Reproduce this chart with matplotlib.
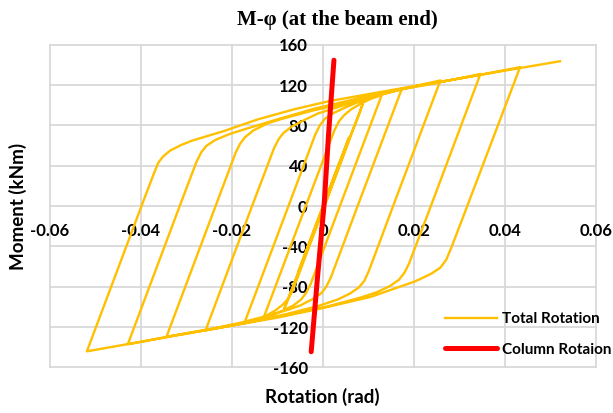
import matplotlib.pyplot as plt

# Total rotation (rad) vs moment (kNm), one branch per line
rot_total = [
    0, -0.0035, 0.0036, -0.0055, 0.0057, -0.0066, -0.0085,
    0.0003, 0.0064, 0.0074, 0.0081, 0.0087,
    0.0003, -0.0066, -0.0076, -0.0088, -0.0105, -0.013,
    -0.0038, 0.0025, 0.0035, 0.0046, 0.0062, 0.0085, 0.0106, 0.0129,
    0.0037, -0.0027, -0.0037, -0.0048, -0.0065, -0.009, -0.012, -0.0145, -0.0172,
    -0.0076, -0.0017, -0.0007, 0.0004, 0.0022, 0.0048, 0.0071, 0.0116, 0.0173,
    0.0076, 0.0017, 0.0007, -0.0004, -0.0022, -0.005, -0.0075, -0.012, -0.018, -0.0258,
    -0.0156, -0.0108, -0.0098, -0.0087, -0.0068, -0.0038, -0.001, 0.005, 0.011, 0.018, 0.0258,
    0.0154, 0.0101, 0.0091, 0.0079, 0.006, 0.0033, -0.001, -0.008, -0.016, -0.025, -0.0344,
    -0.0236, -0.0192, -0.0182, -0.0171, -0.0153, -0.0122, -0.009, -0.002, 0.006, 0.015,
    0.025, 0.0346,
    0.0237, 0.0189, 0.0179, 0.0167, 0.0148, 0.0118, 0.008, 0.001, -0.008, -0.018,
    -0.03, -0.0429,
    -0.0315, -0.0278, -0.0268, -0.0257, -0.0237, -0.0205, -0.017, -0.01, -0.002, 0.008,
    0.02, 0.032, 0.0433,
    0.0317, 0.0283, 0.0271, 0.0258, 0.0238, 0.0215, 0.02, 0.0105, 0, -0.01, -0.02,
    -0.03, -0.04, -0.0519,
    -0.0399, -0.0372, -0.0362, -0.0352, -0.0336, -0.0312, -0.0289, -0.0217, -0.0143,
    -0.0063, 0.0013, 0.01, 0.02, 0.03, 0.04, 0.0521,
]
mom_total = [
    0, -42, 43, -66, 68, -80, -101.5,
    0, 74, 85, 93, 101,
    0, -83, -91.5, -97.5, -103.5, -110,
    0, 75, 84, 90, 96, 102, 106.5, 110,
    0, -77, -86, -92.5, -98.5, -104, -109.5, -112.5, -115,
    0, 71, 80, 86.5, 92, 97.5, 102, 109, 116,
    0, -71, -80, -86.5, -92, -98.5, -102.5, -108.5, -115.5, -123,
    0, 57, 66, 72.5, 79, 86, 92, 100.5, 108.5, 116.5, 124.6,
    0, -64, -74, -80.5, -86.5, -92.5, -99, -107, -115, -122.5, -129.5,
    0, 53, 62, 68.5, 75, 82, 86.5, 95, 103, 114,
    122, 131,
    0, -57, -66, -73, -79, -85.5, -91, -99.5, -108, -116.5,
    -126, -137,
    0, 44, 53, 59.5, 65.5, 71.5, 76.5, 86, 96.5, 107,
    118.5, 128, 137.7,
    0, -40, -53, -61, -67, -72, -75, -90, -101, -110.5, -118.5,
    -126.5, -134.5, -144,
    0, 32, 43, 49, 55, 60.5, 64.7, 74.5, 86,
    96, 104, 111, 119, 126.5, 134.3, 143.6,
]

# Column rotation (rad) vs moment (kNm)
rot_col = [-0.0026, -0.0012, 0.0003, 0.0012, 0.0024]
mom_col = [-144.4, -70, 5, 70, 144.6]

x_ticks = [-0.06, -0.04, -0.02, 0, 0.02, 0.04, 0.06]
x_labels = ['-0.06', '-0.04', '-0.02', '0', '0.02', '0.04', '0.06']
y_ticks = [-160, -120, -80, -40, 0, 40, 80, 120, 160]
y_labels = ['-160', '-120', '-80', '-40', '0', '40', '80', '120', '160']

plt.rcParams['font.family'] = 'Lato'

fig = plt.figure(figsize=(6.13, 4.13), dpi=100)
ax = fig.add_axes([0.0816, 0.1102, 0.8907, 0.7816])

ax.plot(rot_total, mom_total, color='#FFC000', lw=1.7, label='Total Rotation')
ax.plot(rot_col, mom_col, color='#FF0000', lw=3.6, label='Column Rotaion',
        solid_capstyle='round')

ax.set_xlim(-0.06, 0.06)
ax.set_ylim(-160, 160)
ax.set_xticks(x_ticks)
ax.set_xticklabels(x_labels)
ax.set_yticks(y_ticks)
ax.set_yticklabels(y_labels)

# axes cross at the origin, labels sit next to them
for s in ax.spines.values():
    s.set_visible(False)
ax.spines['left'].set_position(('data', 0))
ax.spines['bottom'].set_position(('data', 0))
ax.tick_params(axis='both', length=0, labelsize=12)
ax.tick_params(axis='y', pad=11)
ax.tick_params(axis='x', pad=12)
for lab in ax.get_xticklabels() + ax.get_yticklabels():
    lab.set_fontweight('bold')

ax.grid(color='#D9D9D9', lw=1.3)
for gl in ax.get_xgridlines() + ax.get_ygridlines():
    gl.set_clip_on(False)

fig.text(337 / 613, 1 - 20 / 413, 'M-φ (at the beam end)', family='Liberation Serif',
         weight='bold', size=15, ha='center', va='center')
fig.text(18 / 613, 0.501, 'Moment (kNm)', rotation=90, weight='bold', size=13.5,
         ha='center', va='center')
fig.text(322 / 613, 1 - 397 / 413, 'Rotation (rad)', weight='bold', size=13.5,
         ha='center', va='center')

ax.legend(loc='upper left', bbox_to_anchor=(445 / 613, 1 - 312 / 413),
          bbox_transform=fig.transFigure, frameon=False, borderpad=0,
          borderaxespad=0, handlelength=3.4, handletextpad=0.35, labelspacing=1.1,
          prop={'weight': 'bold', 'size': 11})

fig.savefig('out.png', dpi=100)
